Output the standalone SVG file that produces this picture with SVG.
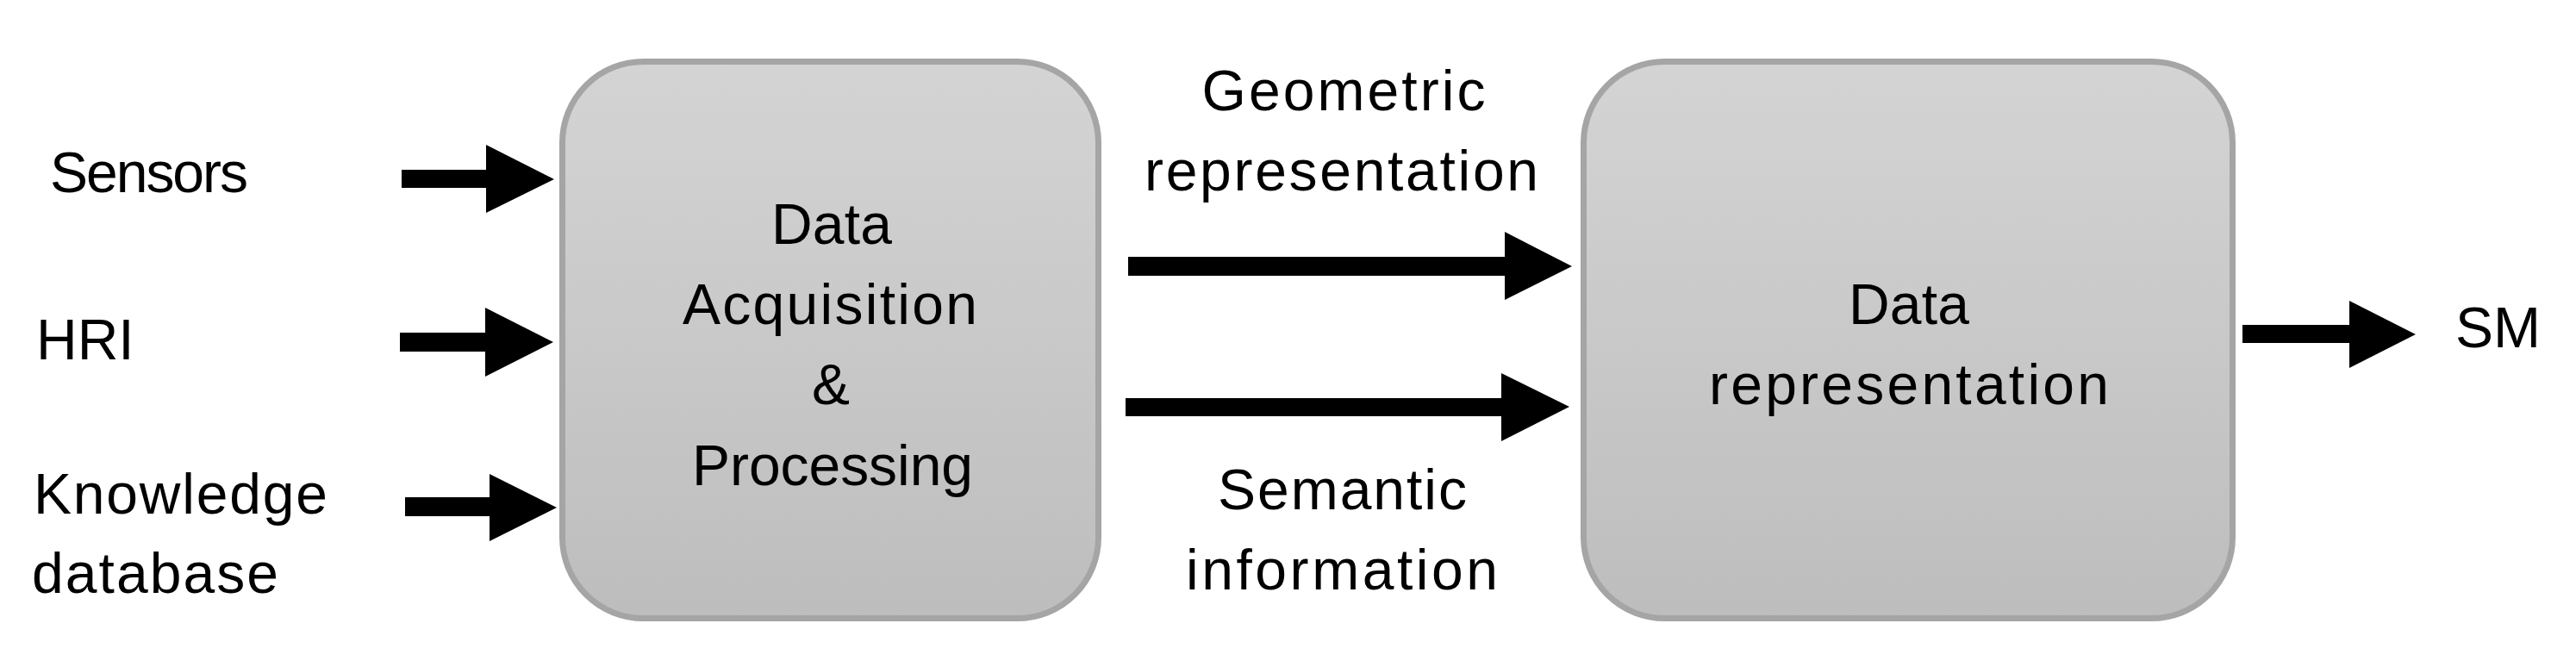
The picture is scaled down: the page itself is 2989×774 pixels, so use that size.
<svg xmlns="http://www.w3.org/2000/svg" width="2989" height="774" viewBox="0 0 2989 774">
  <defs>
    <linearGradient id="boxFill" x1="0" y1="0" x2="0" y2="1">
      <stop offset="0" stop-color="#d4d4d4"/>
      <stop offset="1" stop-color="#bdbdbd"/>
    </linearGradient>
    <style>
      .box { fill: url(#boxFill); stroke: #a5a5a5; stroke-width: 7; }
      .lbl { font-family: "Liberation Sans", Arial, sans-serif; font-size: 66px; fill: #000; }
      .mid { text-anchor: middle; }
      .arrow { fill: #000; stroke: none; }
    </style>
  </defs>
  <rect width="2989" height="774" fill="#ffffff"/>

  <g id="label-sensors">
    <text class="lbl" x="58" y="223" textLength="230" lengthAdjust="spacing">Sensors</text>
  </g>
  <g id="label-hri">
    <text class="lbl" x="42" y="417">HRI</text>
  </g>
  <g id="label-knowledge">
    <text class="lbl" x="39" y="596" textLength="341" lengthAdjust="spacing">Knowledge</text>
    <text class="lbl" x="37" y="688" textLength="286" lengthAdjust="spacing">database</text>
  </g>

  <g id="node-acquisition">
    <rect class="box" x="652.5" y="71.5" width="622" height="646" rx="94" ry="94"/>
    <text class="lbl mid" x="965" y="283" textLength="140" lengthAdjust="spacing">Data</text>
    <text class="lbl mid" x="963" y="376" textLength="342" lengthAdjust="spacing">Acquisition</text>
    <text class="lbl mid" x="964" y="469">&amp;</text>
    <text class="lbl mid" x="966" y="563" textLength="326" lengthAdjust="spacing">Processing</text>
  </g>

  <g id="label-geometric">
    <text class="lbl mid" x="1559" y="128" textLength="329" lengthAdjust="spacing">Geometric</text>
    <text class="lbl mid" x="1556.5" y="221" textLength="457" lengthAdjust="spacing">representation</text>
  </g>
  <g id="label-semantic">
    <text class="lbl mid" x="1557.5" y="591" textLength="289" lengthAdjust="spacing">Semantic</text>
    <text class="lbl mid" x="1557" y="684" textLength="362" lengthAdjust="spacing">information</text>
  </g>

  <g id="node-representation">
    <rect class="box" x="1837.5" y="71.5" width="753" height="646" rx="94" ry="94"/>
    <text class="lbl mid" x="2215" y="376" textLength="140" lengthAdjust="spacing">Data</text>
    <text class="lbl mid" x="2215" y="469" textLength="464" lengthAdjust="spacing">representation</text>
  </g>

  <g id="label-sm">
    <text class="lbl" x="2849" y="403">SM</text>
  </g>

  <g id="connectors">
    <polygon class="arrow" points="466,197 564,197 564,168 643,208 564,247 564,218 466,218"/>
    <polygon class="arrow" points="464,386 563,386 563,357 642,397 563,437 563,408 464,408"/>
    <polygon class="arrow" points="470,577 568,577 568,550 646,589 568,628 568,599 470,599"/>
    <polygon class="arrow" points="1309,298 1746,298 1746,269 1824,309 1746,348 1746,320 1309,320"/>
    <polygon class="arrow" points="1306,462 1742,462 1742,433 1821,472 1742,512 1742,483 1306,483"/>
    <polygon class="arrow" points="2602,377 2726,377 2726,349 2803,388 2726,427 2726,398 2602,398"/>
  </g>
</svg>
